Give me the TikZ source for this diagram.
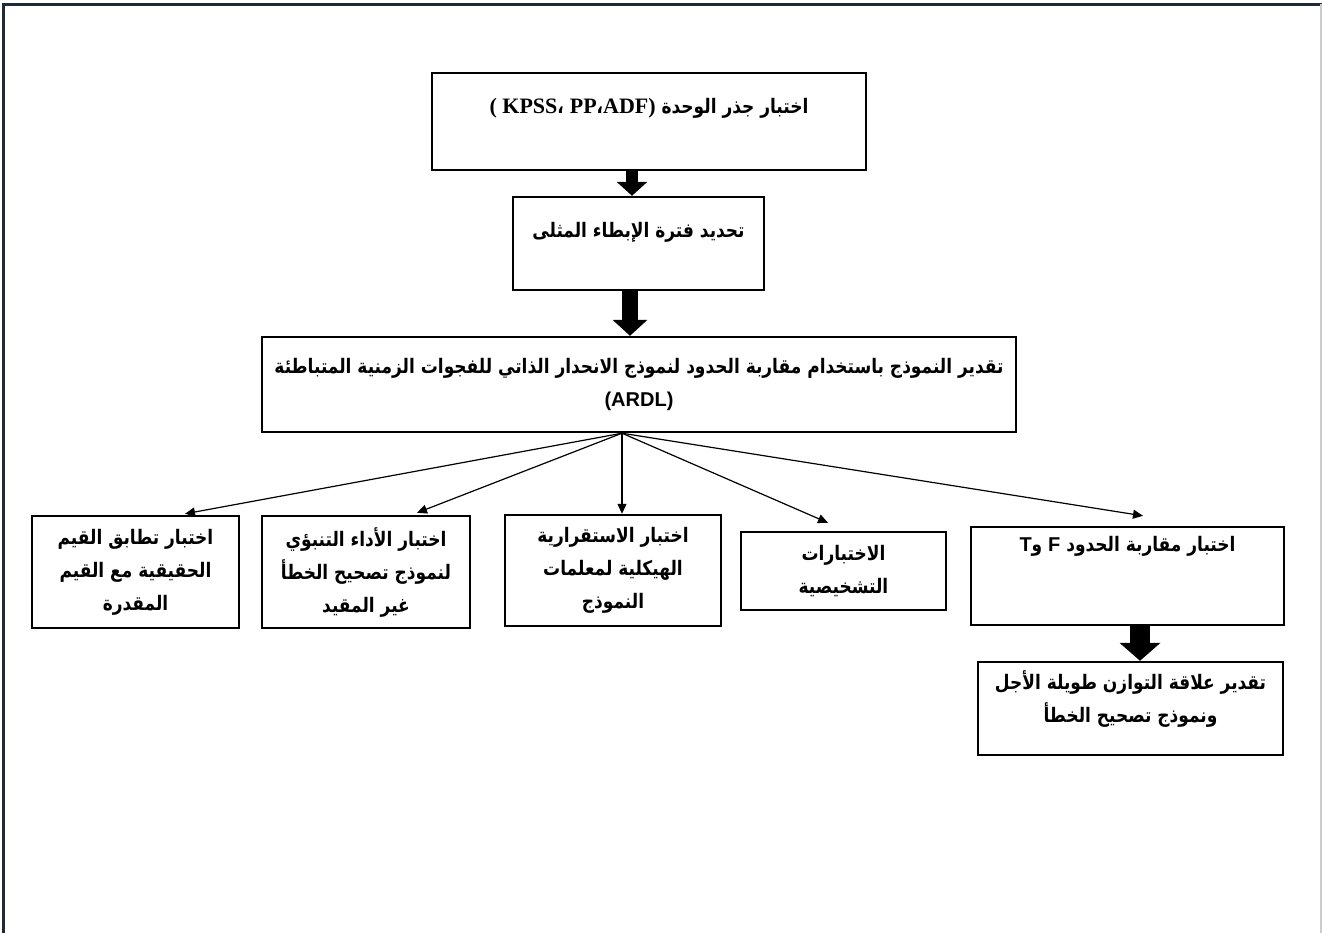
\documentclass[tikz,border=0pt]{standalone}
\usepackage{fontspec}
\newfontfamily\arabicfont[Script=Arabic,FakeStretch=0.85]{DejaVu Sans}
\newfontfamily\serifbold{Liberation Serif}
\newfontfamily\sansbold{Liberation Sans}
\TeXXeTstate=1
\usepackage{xcolor}
\definecolor{framecol}{HTML}{1F2A36}
\usetikzlibrary{positioning,arrows.meta,calc}
\newcommand{\rl}[1]{\beginR #1\endR}

\tikzset{
  box/.style={draw, line width=1.2pt, align=center, inner sep=0pt,
    font=\arabicfont\bfseries\fontsize{10}{16.5}\selectfont},
  blockarrow/.style n args={3}{line width=#1, -{Triangle[width=#2,length=#3]}},
  branch/.style={line width=0.6pt, -{Triangle[width=4.5pt,length=5pt]}}
}

\begin{document}
\begin{tikzpicture}[x=0.5pt,y=-0.5pt]
\useasboundingbox (0,0) rectangle (1322,933);
\draw[framecol, line width=1.5pt] (3.5,933) -- (3.5,4) -- (1322,4);
\draw[gray!40, line width=0.6pt] (1321,4) -- (1321,933);

\node[box, minimum width=217pt, minimum height=48.5pt, text depth=16pt] (unitroot) at (649,121.5)
  {\rl{اختبار جذر الوحدة \beginL{\serifbold\bfseries\fontsize{11}{16}\selectfont ( KPSS}{\arabicfont\bfseries ،} {\serifbold\bfseries\fontsize{11}{16}\selectfont PP}{\arabicfont\bfseries ،}{\serifbold\bfseries\fontsize{11}{16}\selectfont ADF)}\endL}};
\node[box, minimum width=125.5pt, minimum height=46.5pt, text depth=14pt] (lag) at (638.5,243.5)
  {\rl{تحديد فترة الإبطاء المثلى}};
\node[box, minimum width=377pt, minimum height=47.5pt] (ardl) at (639,384.5)
  {\rl{تقدير النموذج باستخدام مقاربة الحدود لنموذج الانحدار الذاتي للفجوات الزمنية المتباطئة}\\ {\sansbold\bfseries (ARDL)}};

\node[box, minimum width=103.5pt, minimum height=56pt] (fitval) at (135.5,572)
  {\rl{اختبار تطابق القيم}\\ \rl{الحقيقية مع القيم}\\ \rl{المقدرة}};
\node[box, minimum width=104pt, minimum height=56pt] (forecast) at (366,572)
  {\rl{اختبار الأداء التنبؤي}\\ \rl{لنموذج تصحيح الخطأ}\\ \rl{غير المقيد}};
\node[box, minimum width=108pt, minimum height=55.5pt] (stability) at (613,570.5)
  {\rl{اختبار الاستقرارية}\\ \rl{الهيكلية لمعلمات}\\ \rl{النموذج}};
\node[box, minimum width=102.5pt, minimum height=39pt] (diag) at (843.5,571)
  {\rl{الاختبارات}\\ \rl{التشخيصية}};
\node[box, minimum width=156.5pt, minimum height=49pt, text depth=32pt] (bounds) at (1127.5,576)
  {\rl{اختبار مقاربة الحدود \beginL{\sansbold\bfseries F}\endL{} و\beginL{\sansbold\bfseries T}\endL}};
\node[box, minimum width=152.5pt, minimum height=46.5pt, text depth=12pt] (ecm) at (1130.5,708.5)
  {\rl{تقدير علاقة التوازن طويلة الأجل}\\ \rl{ونموذج تصحيح الخطأ}};

\draw[blockarrow={6pt}{15pt}{7pt}] ($(unitroot.south)+(-17,0)$) -- ($(lag.north)+(-6.5,0)$);
\draw[blockarrow={8pt}{17pt}{8pt}] ($(lag.south)+(-8.5,0)$) -- ($(ardl.north)+(-9,0)$);
\draw[blockarrow={10pt}{20pt}{9pt}] ($(bounds.south)+(12.5,0)$) -- ($(ecm.north)+(9.5,0)$);

\coordinate (hub) at ($(ardl.south)+(-17,0)$);
\draw[branch] (hub) -- ($(fitval.north)+(49.5,-1)$);
\draw[branch] (hub) -- ($(forecast.north)+(51,-2)$);
\draw[branch] (hub) -- ($(stability.north)+(9,0)$);
\draw[branch] (hub) -- ($(diag.north)+(-15.5,-8)$);
\draw[branch] (hub) -- ($(bounds.north)+(15.5,-10)$);
\end{tikzpicture}
\end{document}
